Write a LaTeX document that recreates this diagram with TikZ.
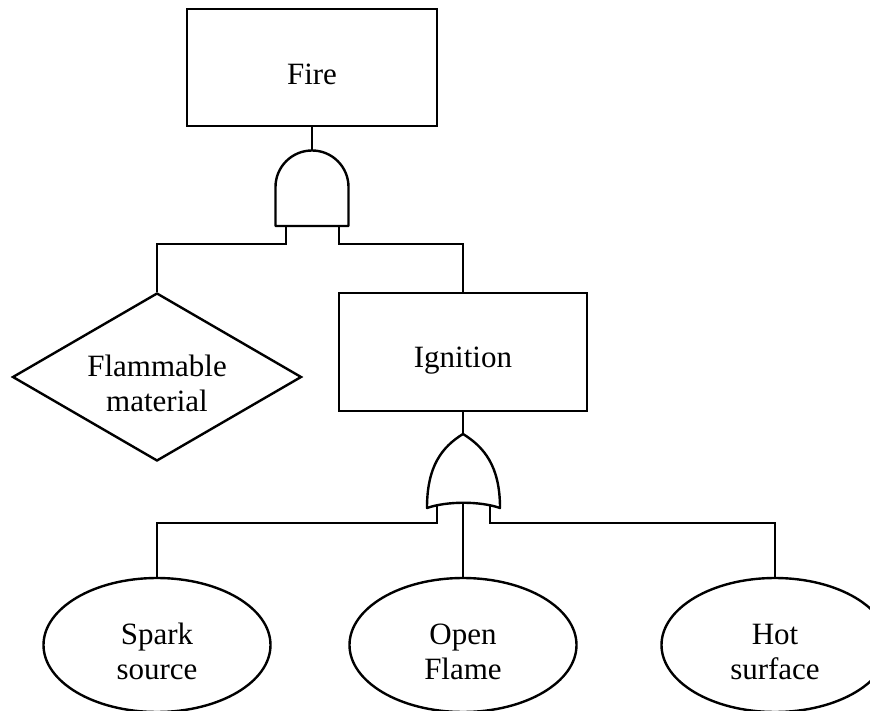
\documentclass[tikz,border=0pt]{standalone}
\usepackage{fontspec}
\setmainfont{Liberation Serif}
\usetikzlibrary{shapes.geometric}
\begin{document}
\begin{tikzpicture}[x=1pt,y=1pt,line width=2.4pt,
  every node/.style={font=\fontsize{31}{35}\selectfont, align=center},
  eventbox/.style={draw, rectangle, inner sep=0pt},
  basic/.style={draw, ellipse, minimum width=227, minimum height=134, inner sep=0pt, text height=68pt, text depth=0pt},
  undev/.style={draw, diamond, minimum width=289, minimum height=168, inner sep=0pt, aspect=1.72, text height=70pt, text depth=0pt},
  gate/.style={draw, fill=white, line join=round}]
\useasboundingbox (0,0) rectangle (870,710);
\clip (0,0) rectangle (870,710);

% events
\node[eventbox, minimum width=250, minimum height=117, text height=35pt, text depth=0pt] (fire) at (312,642.5) {Fire};
\node[eventbox, minimum width=248, minimum height=118, text height=32pt, text depth=0pt] (ign) at (463,358) {Ignition};
\node[undev] (flam) at (157,333) {Flammable\\material};
\node[basic] (spark) at (157,65) {Spark\\source};
\node[basic] (open) at (463,65) {Open\\Flame};
\node[basic] (hot) at (775,65) {Hot\\surface};

% gate terminals
\coordinate (and-out) at (312,560);
\coordinate (and-inL) at (286,484);
\coordinate (and-inR) at (339,484);
\coordinate (or-out) at (463,276);
\coordinate (or-inL) at (437,204);
\coordinate (or-inR) at (490,204);
\coordinate (or-inM) at (463,207);

% connectors
\draw (fire.south) -- (and-out);
\draw (and-inL) -- ++(0,-18) -| (flam.north);
\draw (and-inR) -- ++(0,-18) -| (ign.north);
\draw (ign.south) -- (or-out);
\draw (or-inL) -- ++(0,-17) -| (spark.north);
\draw (or-inR) -- ++(0,-17) -| (hot.north);
\draw (or-inM) -- (open.north);

% AND gate
\draw[gate] (275.5,484) -- (275.5,523) arc[start angle=180, end angle=0, radius=36.5] -- (348.5,484) -- cycle;

% OR gate
\draw[gate] (427,202) .. controls (427,244) and (442,263) .. (463,276)
  .. controls (484,263) and (500,244) .. (500,202)
  .. controls (480,209) and (447,209) .. (427,202) -- cycle;
\end{tikzpicture}
\end{document}
